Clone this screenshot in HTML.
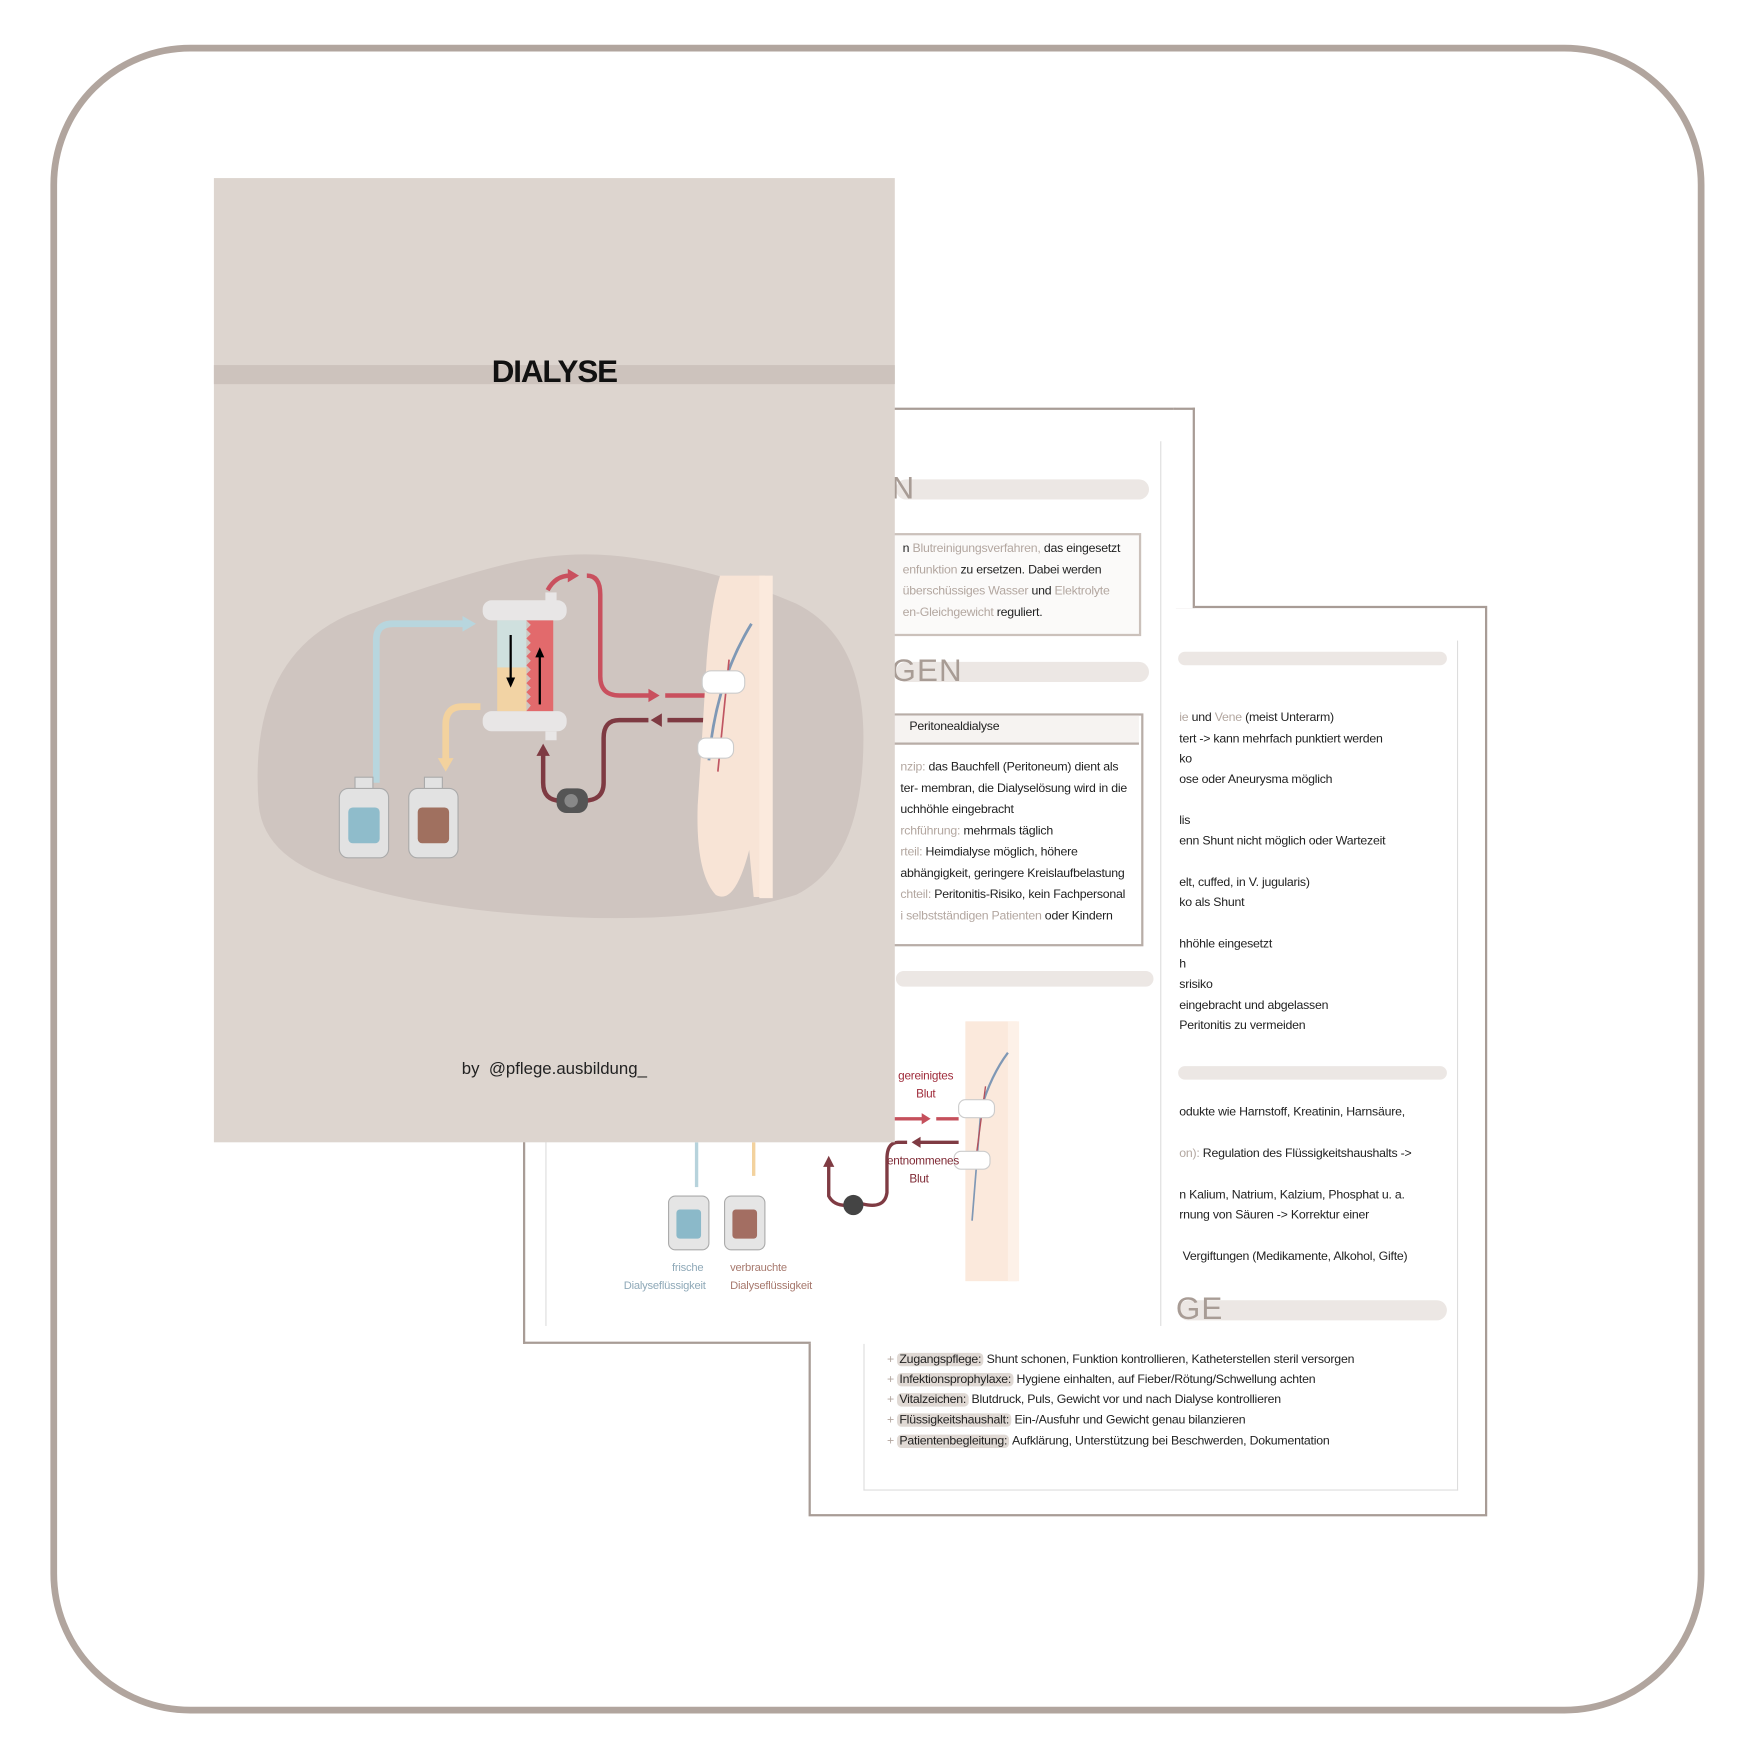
<!DOCTYPE html>
<html><head><meta charset="utf-8"><style>
html,body{margin:0;padding:0;background:#fff;}
body{width:1747px;height:1759px;overflow:hidden;position:relative;}
#s{position:absolute;left:0;top:0;width:1560px;height:1571px;transform:scale(1.1199);transform-origin:0 0;font-family:"Liberation Sans Narrow","Liberation Sans",sans-serif;}
.a{position:absolute;}
.t{position:absolute;font-size:11px;color:#222;white-space:nowrap;letter-spacing:-0.2px;}
.g{color:#b3a7a0;}
.bar{position:absolute;height:18px;background:#ece7e4;border-radius:9px;}
.hd{position:absolute;font-size:28px;color:#a89c95;letter-spacing:1px;}
.hl{background:#e0d9d4;border-radius:4px;padding:0 2px;}
</style></head><body><div id="s">
<!-- outer frame -->
<div class="a" style="left:45px;top:40px;width:1465px;height:1478px;border:6px solid #b1a59e;border-radius:125px;"></div>

<!-- page 3 (behind) -->
<div class="a" style="left:722px;top:541px;width:602px;height:809px;border:2px solid #a89c96;background:#fff;"></div>
<div class="a" style="left:771px;top:572px;width:529px;height:758px;border:1px solid #ddd;border-top:none;"></div>
<div class="bar" style="left:1052px;top:582px;width:240px;height:12px;"></div>
<div class="t" style="left:1053px;top:635px;"><span class="g">ie</span> und <span class="g">Vene</span> (meist Unterarm)</div>
<div class="t" style="left:1053px;top:654px;">tert -&gt; kann mehrfach punktiert werden</div>
<div class="t" style="left:1053px;top:672px;">ko</div>
<div class="t" style="left:1053px;top:690px;">ose oder Aneurysma möglich</div>
<div class="t" style="left:1053px;top:727px;">lis</div>
<div class="t" style="left:1053px;top:745px;">enn Shunt nicht möglich oder Wartezeit</div>
<div class="t" style="left:1053px;top:782px;">elt, cuffed, in V. jugularis)</div>
<div class="t" style="left:1053px;top:800px;">ko als Shunt</div>
<div class="t" style="left:1053px;top:837px;">hhöhle eingesetzt</div>
<div class="t" style="left:1053px;top:855px;">h</div>
<div class="t" style="left:1053px;top:873px;">srisiko</div>
<div class="t" style="left:1053px;top:892px;">eingebracht und abgelassen</div>
<div class="t" style="left:1053px;top:910px;">Peritonitis zu vermeiden</div>
<div class="bar" style="left:1052px;top:952px;width:240px;height:12px;"></div>
<div class="t" style="left:1053px;top:987px;">odukte wie Harnstoff, Kreatinin, Harnsäure,</div>
<div class="t" style="left:1053px;top:1024px;"><span class="g">on):</span> Regulation des Flüssigkeitshaushalts -&gt;</div>
<div class="t" style="left:1053px;top:1061px;">n Kalium, Natrium, Kalzium, Phosphat u. a.</div>
<div class="t" style="left:1053px;top:1079px;">rnung von Säuren -&gt; Korrektur einer</div>
<div class="t" style="left:1056px;top:1116px;">Vergiftungen (Medikamente, Alkohol, Gifte)</div>
<div class="bar" style="left:1052px;top:1161px;width:240px;"></div>
<div class="hd" style="left:1050px;top:1153px;">GE</div>
<div class="t" style="left:792px;top:1208px;"><span class="g">+</span> <span class="hl">Zugangspflege:</span> Shunt schonen, Funktion kontrollieren, Katheterstellen steril versorgen</div>
<div class="t" style="left:792px;top:1226px;"><span class="g">+</span> <span class="hl">Infektionsprophylaxe:</span> Hygiene einhalten, auf Fieber/Rötung/Schwellung achten</div>
<div class="t" style="left:792px;top:1244px;"><span class="g">+</span> <span class="hl">Vitalzeichen:</span> Blutdruck, Puls, Gewicht vor und nach Dialyse kontrollieren</div>
<div class="t" style="left:792px;top:1262px;"><span class="g">+</span> <span class="hl">Flüssigkeitshaushalt:</span> Ein-/Ausfuhr und Gewicht genau bilanzieren</div>
<div class="t" style="left:792px;top:1281px;"><span class="g">+</span> <span class="hl">Patientenbegleitung:</span> Aufklärung, Unterstützung bei Beschwerden, Dokumentation</div>

<!-- page 2 (on top of page 3) -->
<div class="a" style="left:467px;top:364px;width:581px;height:834px;border-left:2px solid #a89c96;border-top:2px solid #a89c96;background:#fff;"></div>
<div class="a" style="left:1048px;top:364px;width:17px;height:177px;border-top:2px solid #a89c96;border-right:2px solid #a89c96;background:#fff;"></div>
<div class="a" style="left:467px;top:1198px;width:257px;height:2px;background:#a89c96;"></div>
<div class="a" style="left:487px;top:394px;width:548px;height:790px;border-left:1px solid #ddd;border-right:1px solid #ddd;"></div>
<div class="bar" style="left:800px;top:428px;width:226px;"></div>
<div class="hd" style="left:796px;top:420px;">N</div>
<div class="a" style="left:770px;top:476px;width:245px;height:88px;border:2px solid #cbc1bb;background:#fbfaf9;"></div>
<div class="t" style="left:806px;top:484px;">n <span class="g">Blutreinigungsverfahren,</span> das eingesetzt</div>
<div class="t" style="left:806px;top:503px;"><span class="g">enfunktion</span> zu ersetzen. Dabei werden</div>
<div class="t" style="left:806px;top:522px;"><span class="g">überschüssiges Wasser</span> und <span class="g">Elektrolyte</span></div>
<div class="t" style="left:806px;top:541px;"><span class="g">en-Gleichgewicht</span> reguliert.</div>
<div class="bar" style="left:800px;top:591px;width:226px;"></div>
<div class="hd" style="left:796px;top:583px;">GEN</div>
<div class="a" style="left:770px;top:637px;width:247px;height:204px;border:2px solid #b8ada7;background:#fff;"></div>
<div class="a" style="left:772px;top:639px;width:245px;height:24px;background:#f6f3f1;border-bottom:2px solid #b8ada7;"></div>
<div class="t" style="left:812px;top:643px;">Peritonealdialyse</div>
<div class="t" style="left:804px;top:679px;"><span class="g">nzip:</span> das Bauchfell (Peritoneum) dient als</div>
<div class="t" style="left:804px;top:698px;">ter- membran, die Dialyselösung wird in die</div>
<div class="t" style="left:804px;top:717px;">uchhöhle eingebracht</div>
<div class="t" style="left:804px;top:736px;"><span class="g">rchführung:</span> mehrmals täglich</div>
<div class="t" style="left:804px;top:755px;"><span class="g">rteil:</span> Heimdialyse möglich, höhere</div>
<div class="t" style="left:804px;top:774px;">abhängigkeit, geringere Kreislaufbelastung</div>
<div class="t" style="left:804px;top:793px;"><span class="g">chteil:</span> Peritonitis-Risiko, kein Fachpersonal</div>
<div class="t" style="left:804px;top:812px;"><span class="g">i selbstständigen Patienten</span> oder Kindern</div>
<div class="bar" style="left:800px;top:867px;width:230px;height:14px;"></div>
<svg class="a" style="left:540px;top:900px" width="400" height="260">
<rect x="322" y="12" width="46" height="232" fill="#fbe9dc"/>
<rect x="360" y="12" width="10" height="232" fill="#fdf1e8"/>
<path d="M336 90 Q345 60 360 40" stroke="#7f98b5" stroke-width="2" fill="none"/>
<path d="M328 190 L336 90" stroke="#7f98b5" stroke-width="1.5" fill="none"/>
<path d="M332 130 L340 70" stroke="#b3505b" stroke-width="1.2" fill="none"/>
<rect x="316" y="82" width="32" height="16" rx="6" fill="#fff" stroke="#ccc"/>
<rect x="312" y="128" width="32" height="16" rx="6" fill="#fff" stroke="#ccc"/>
<path d="M258 99 H285" stroke="#c5505c" stroke-width="3"/><path d="M283 94 L291 99 L283 104Z" fill="#c5505c"/>
<path d="M296 99 H316" stroke="#c5505c" stroke-width="3"/>
<path d="M316 120 H280" stroke="#7f3b43" stroke-width="3"/><path d="M282 115 L274 120 L282 125Z" fill="#7f3b43"/>
<path d="M270 120 H262 Q252 120 252 135 V165 Q250 180 230 175" stroke="#7f3b43" stroke-width="3" fill="none"/>
<path d="M200 140 V168 Q205 178 220 176" stroke="#7f3b43" stroke-width="3" fill="none"/>
<path d="M195 142 L200 132 L205 142Z" fill="#7f3b43"/>
<circle cx="222" cy="176" r="9" fill="#444"/>
<path d="M82 120 V160" stroke="#b7d3dc" stroke-width="3"/>
<path d="M133 120 V150" stroke="#f3d29e" stroke-width="3"/>
<rect x="57" y="168" width="36" height="48" rx="6" fill="#e5e5e5" stroke="#aaa"/><rect x="64" y="180" width="22" height="26" rx="3" fill="#8bb9c9"/>
<rect x="107" y="168" width="36" height="48" rx="6" fill="#e5e5e5" stroke="#aaa"/><rect x="114" y="180" width="22" height="26" rx="3" fill="#a36e62"/>
</svg>
<div class="t" style="left:802px;top:955px;color:#9f2b3a;font-size:10.5px;">gereinigtes</div>
<div class="t" style="left:818px;top:971px;color:#9f2b3a;font-size:10.5px;">Blut</div>
<div class="t" style="left:792px;top:1031px;color:#7f2a35;font-size:10.5px;">entnommenes</div>
<div class="t" style="left:812px;top:1047px;color:#7f2a35;font-size:10.5px;">Blut</div>
<div class="t" style="left:600px;top:1127px;color:#8fa9b8;font-size:10px;">frische</div>
<div class="t" style="left:557px;top:1143px;color:#8fa9b8;font-size:10px;">Dialyseflüssigkeit</div>
<div class="t" style="left:652px;top:1127px;color:#a7796e;font-size:10px;">verbrauchte</div>
<div class="t" style="left:652px;top:1143px;color:#a7796e;font-size:10px;">Dialyseflüssigkeit</div>

<!-- cover -->
<div class="a" style="left:191px;top:159px;width:608px;height:861px;background:#ddd5cf;"></div>
<div class="a" style="left:191px;top:326px;width:608px;height:17px;background:#cdc3bd;"></div>
<div class="a" style="left:191px;top:316px;width:608px;text-align:center;font-size:28px;font-weight:bold;color:#111;letter-spacing:-1px;">DIALYSE</div>
<svg class="a" style="left:191px;top:159px" width="608" height="861">
<path d="M40 560 Q30 430 120 390 Q200 360 260 345 Q320 330 380 340 Q450 350 520 380 Q580 410 580 500 Q580 610 520 640 Q440 665 320 660 Q200 655 120 630 Q45 610 40 560Z" fill="#cfc5c0"/>
<path d="M145 540 V412 Q145 398 160 398 H225" stroke="#b8d6de" stroke-width="6" fill="none"/>
<path d="M222 391 L234 398 L222 405Z" fill="#b8d6de"/>
<path d="M238 472 H222 Q207 472 207 488 V522" stroke="#f3d29e" stroke-width="6" fill="none"/>
<path d="M200 518 L207 530 L214 518Z" fill="#f3d29e"/>
<rect x="240" y="377" width="75" height="18" rx="8" fill="#e8e6e6"/>
<rect x="240" y="476" width="75" height="18" rx="8" fill="#e8e6e6"/>
<rect x="253" y="395" width="26" height="42" fill="#cfe0de"/>
<rect x="253" y="437" width="26" height="39" fill="#f2d3a4"/>
<path d="M279 395 l4 4 l-4 4 l4 4 l-4 4 l4 4 l-4 4 l4 4 l-4 4 l4 4 l-4 4 l4 4 l-4 4 l4 4 l-4 4 l4 4 l-4 4 l4 4 l-4 4 l4 4 L279 476 H303 V395Z" fill="#e26a6c"/>
<path d="M265 408 V450" stroke="#000" stroke-width="2"/><path d="M261 446 L265 455 L269 446Z"/>
<path d="M291 470 V425" stroke="#000" stroke-width="2"/><path d="M287 428 L291 419 L295 428Z"/>
<rect x="296" y="370" width="10" height="8" fill="#e8e6e6"/><rect x="296" y="494" width="10" height="8" fill="#e8e6e6"/>
<path d="M298 368 Q305 355 318 355" stroke="#c9505e" stroke-width="4" fill="none"/>
<path d="M316 349 L326 355 L316 361Z" fill="#c9505e"/>
<path d="M333 355 Q345 355 345 372 V445 Q345 462 362 462 H390" stroke="#c9505e" stroke-width="4" fill="none"/>
<path d="M388 456 L398 462 L388 468Z" fill="#c9505e"/>
<path d="M403 462 H440" stroke="#c9505e" stroke-width="4"/>
<path d="M440 484 H405" stroke="#7e3a42" stroke-width="4"/>
<path d="M400 478 L390 484 L400 490Z" fill="#7e3a42"/>
<path d="M388 484 H362 Q348 484 348 500 V540 Q348 556 330 556" stroke="#7e3a42" stroke-width="4" fill="none"/>
<path d="M310 556 Q294 556 294 540 V512" stroke="#7e3a42" stroke-width="4" fill="none"/>
<path d="M288 516 L294 505 L300 516Z" fill="#7e3a42"/>
<rect x="306" y="545" width="28" height="22" rx="9" fill="#555"/><circle cx="319" cy="556" r="6" fill="#888"/>
<rect x="126" y="535" width="16" height="12" fill="#e2e2e2" stroke="#aaa"/>
<rect x="112" y="545" width="44" height="62" rx="8" fill="#e2e2e2" stroke="#aaa"/>
<rect x="120" y="562" width="28" height="32" rx="4" fill="#8fbccb"/>
<rect x="188" y="535" width="16" height="12" fill="#e2e2e2" stroke="#aaa"/>
<rect x="174" y="545" width="44" height="62" rx="8" fill="#e2e2e2" stroke="#aaa"/>
<rect x="182" y="562" width="28" height="32" rx="4" fill="#a0705f"/>
<path d="M452 355 H492 V642 H482 L478 600 Q465 650 448 640 Q430 620 432 560 Q436 500 440 430 Q444 380 452 355Z" fill="#f8e4d6"/>
<rect x="487" y="355" width="12" height="288" fill="#fbeadd"/>
<path d="M442 520 Q448 450 480 398" stroke="#7f98b5" stroke-width="2.5" fill="none"/>
<path d="M450 530 L460 430" stroke="#c05562" stroke-width="1.5" fill="none"/>
<rect x="436" y="440" width="38" height="20" rx="8" fill="#fff" stroke="#ccc"/>
<rect x="432" y="500" width="32" height="18" rx="7" fill="#fff" stroke="#ccc"/>
</svg>
<div class="a" style="left:191px;top:946px;width:608px;text-align:center;font-size:15px;color:#222;">by &nbsp;@pflege.ausbildung_</div>
</div></body></html>
